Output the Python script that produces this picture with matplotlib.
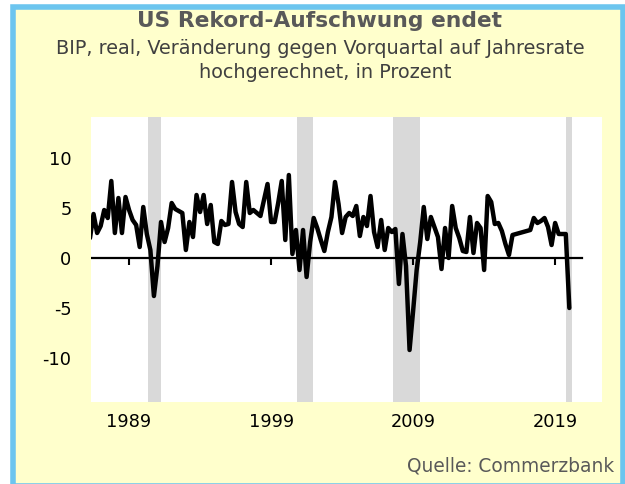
import matplotlib
matplotlib.use("Agg")
import matplotlib.pyplot as plt
from matplotlib.patches import Rectangle

plt.rcParams["font.family"] = ["DejaVu Sans"]

# BIP real, Veraenderung gg. Vorquartal annualisiert (%), 1986Q2 .. 2020Q1
start_year = 1986.25
gdp = [
    2.0, 4.4, 2.5,
    3.2, 4.8, 4.0, 7.7,
    2.5, 6.0, 2.5, 6.1,
    4.8, 3.8, 3.3, 1.1,
    5.1, 2.4, 0.8, -3.8,
    -0.8, 3.6, 1.6, 3.0,
    5.5, 4.9, 4.7, 4.5,
    0.8, 3.6, 2.1, 6.3,
    4.6, 6.3, 3.4, 5.3,
    1.6, 1.4, 3.7, 3.3,
    3.4, 7.6, 4.6, 3.4,
    3.1, 7.6, 4.5, 4.8,
    4.5, 4.2, 5.8, 7.4,
    3.6, 3.6, 5.5, 7.7,
    1.8, 8.3, 0.4, 2.8,
    -1.2, 2.8, -1.9, 1.6,
    4.0, 3.0, 1.8, 0.7,
    2.6, 4.1, 7.6, 5.4,
    2.5, 4.1, 4.5, 4.2,
    5.2, 2.2, 4.1, 3.2,
    6.2, 2.6, 1.1, 3.8,
    0.8, 3.0, 2.6, 2.9,
    -2.6, 2.4, -0.8, -9.2,
    -5.3, -1.2, 1.6, 5.1,
    1.9, 4.1, 3.1, 2.1,
    -1.1, 3.0, 0.0, 5.2,
    3.0, 2.0, 0.7, 0.6,
    4.1, 0.5, 3.5, 3.0,
    -1.2, 6.2, 5.6, 3.4,
    3.5, 2.7, 1.4, 0.3,
    2.3, 2.4, 2.5, 2.6,
    2.7, 2.8, 4.0, 3.5,
    3.7, 4.0, 3.1, 1.3,
    3.5, 2.4, 2.4, 2.4,
    -5.0,
]
quarters = [start_year + 0.25 * i for i in range(len(gdp))]

# Rezessionen (grau hinterlegt)
rec_start = [1990.35, 2000.85, 2007.6, 2019.8]
rec_end = [1991.25, 2001.95, 2009.5, 2020.2]

tick_years = [1989, 1999, 2009, 2019]
tick_labels = ["1989", "1999", "2009", "2019"]
y_ticks = [-10, -5, 0, 5, 10]
y_labels = ["-10", "-5", "0", "5", "10"]

W, H = 625, 484
fig = plt.figure(figsize=(W / 100, H / 100), dpi=100)
fig.patch.set_facecolor("white")

# gelber Hintergrund mit blauem Rahmen
frame = Rectangle((13 / W, -2 / H), 610 / W, (H - 5) / H,
                  transform=fig.transFigure, facecolor="#FFFFCC",
                  edgecolor="#6CC5EF", linewidth=4.0, zorder=-10)
fig.patches.append(frame)

ax = fig.add_axes([91 / W, 1 - 402 / H, 511 / W, 285 / H])
ax.set_facecolor("white")
for s in ax.spines.values():
    s.set_visible(False)

ax.set_xlim(1986.32, 2022.3)
ax.set_ylim(-14.4, 14.1)

for a, b in zip(rec_start, rec_end):
    ax.axvspan(a, b, color="#D9D9D9", lw=0, zorder=1)

ax.axhline(0, xmin=0, xmax=(582 - 91) / 511, color="black", lw=1.6, zorder=2)
ax.plot(tick_years, [0] * len(tick_years), linestyle="none", marker=3,
        markersize=5, markeredgewidth=1.5, color="black", zorder=2)

ax.plot(quarters, gdp, color="black", lw=3.2, solid_joinstyle="round",
        solid_capstyle="round", zorder=3)

ax.set_xticks(tick_years)
ax.set_xticklabels(tick_labels, fontsize=12.8, color="black")
ax.set_yticks(y_ticks)
ax.set_yticklabels(y_labels, fontsize=12.8, color="black")
ax.tick_params(axis="x", length=0, pad=8)
ax.tick_params(axis="y", length=0, pad=14)

fig.text(0.511, 1 - 21 / H, "US Rekord-Aufschwung endet", ha="center",
         va="center", fontsize=15.7, fontweight="bold", color="#595959")
fig.text(0.513, 1 - 48 / H,
         "BIP, real, Veränderung gegen Vorquartal auf Jahresrate",
         ha="center", va="center", fontsize=13.9, color="#404040")
fig.text(0.52, 1 - 72 / H, "hochgerechnet, in Prozent", ha="center",
         va="center", fontsize=13.9, color="#404040")
fig.text(614 / W, 1 - 466 / H, "Quelle: Commerzbank", ha="right",
         va="center", fontsize=13.4, color="#595959")

fig.savefig("out.png", dpi=100, facecolor=fig.get_facecolor())
